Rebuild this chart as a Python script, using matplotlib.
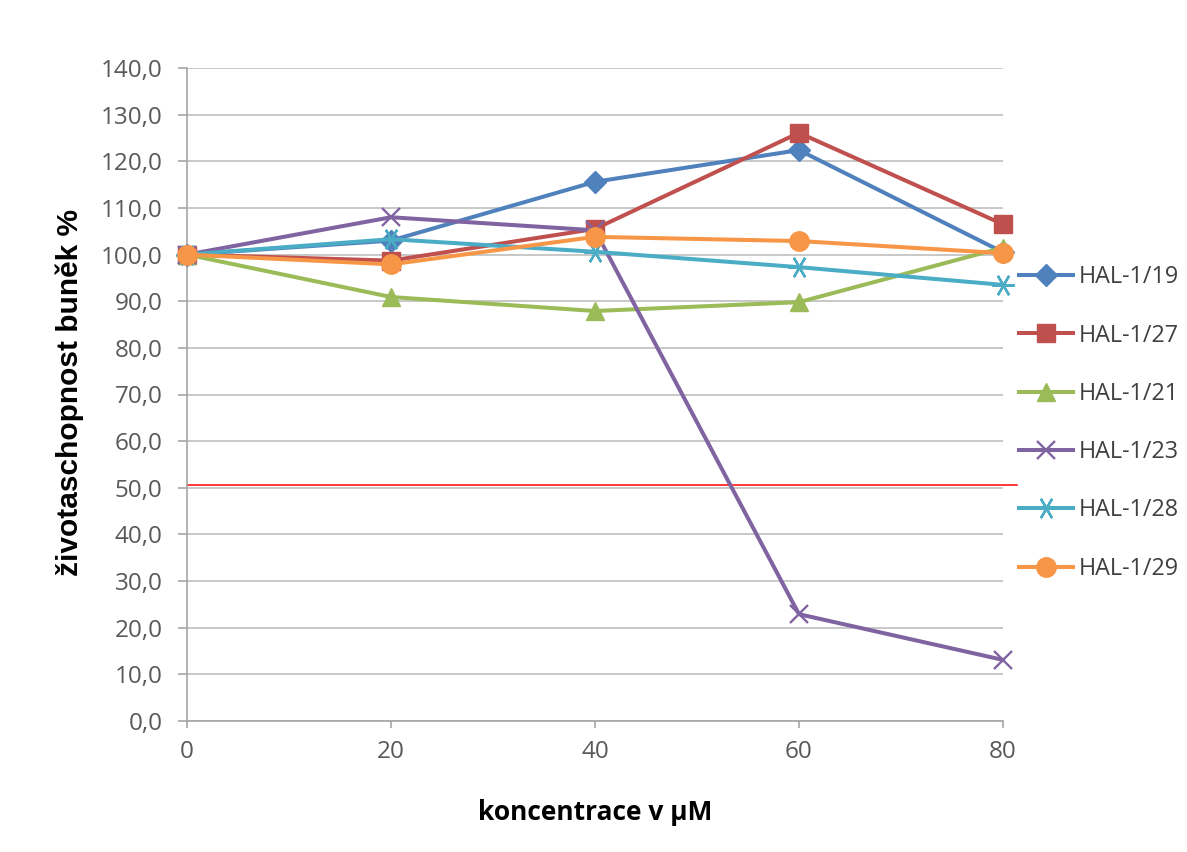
import matplotlib.pyplot as plt
from matplotlib.ticker import FuncFormatter

# data
conc = [0, 20, 40, 60, 80]
hal_19 = [100.0, 103.0, 115.6, 122.4, 100.5]
hal_27 = [100.0, 98.7, 105.5, 126.1, 106.5]
hal_21 = [100.0, 90.9, 87.9, 89.8, 101.5]
hal_23 = [100.0, 108.0, 105.2, 22.9, 13.1]
hal_28 = [100.0, 103.3, 100.6, 97.3, 93.5]
hal_29 = [100.0, 97.9, 103.8, 102.9, 100.3]
names = ["HAL-1/19", "HAL-1/27", "HAL-1/21", "HAL-1/23", "HAL-1/28", "HAL-1/29"]
threshold = 50.5

series = [hal_19, hal_27, hal_21, hal_23, hal_28, hal_29]
colors = ["#4F81BD", "#C0504D", "#9BBB59", "#8064A2", "#4BACC6", "#F79646"]
markers = ["D", "s", "^", "x", (6, 2, 90), "o"]
msizes = [11, 13, 13, 13, 16, 14]

plt.rcParams['font.family'] = ['Open Sans', 'DejaVu Sans']

fig = plt.figure(figsize=(11.87, 8.52), dpi=100)
ax = fig.add_axes([187/1187, 1 - 721/852, (1003 - 187)/1187, (721 - 68)/852])

for vals, name, c, m, ms in zip(series, names, colors, markers, msizes):
	thin = m in ("x", (6, 2, 90))
	ax.plot(conc, vals, color=c, lw=2.9, marker=m, markersize=ms,
		markeredgewidth=1.7 if thin else 1,
		markeredgecolor=c, markerfacecolor=c, label=name, clip_on=False, zorder=3)

# red 50 % line, sticks out a bit past the plot area
ax.axhline(threshold, xmin=0, xmax=1.017, color="#FF0000", lw=1.1, clip_on=False, zorder=2)

ax.set_xlim(0, 80)
ax.set_ylim(0, 140)
ax.set_xticks(conc)
ax.set_yticks(range(0, 141, 10))
ax.yaxis.set_major_formatter(FuncFormatter(lambda v, p: f"{v:.1f}".replace(".", ",")))
ax.grid(axis="y", color="#BFBFBF", lw=1.2)
ax.set_axisbelow(True)
for s in ("top", "right"):
	ax.spines[s].set_visible(False)
for s in ("left", "bottom"):
	ax.spines[s].set_color("#A6A6A6")
	ax.spines[s].set_linewidth(1.2)
ax.tick_params(axis="y", length=6.5, width=1.2, color="#A6A6A6", labelsize=17.5, labelcolor="#595959", pad=11)
ax.tick_params(axis="x", length=5, width=1.2, color="#A6A6A6", labelsize=17.5, labelcolor="#595959", pad=9)

fig.text(595/1187, 1 - 812/852, "koncentrace v µM", ha="center", va="center",
	fontsize=19, fontweight="bold")
fig.text(70/1187, 1 - 392/852, "životaschopnost buněk %", ha="center", va="center",
	rotation=90, fontsize=21.5, fontweight="bold", family="Liberation Sans")

fig.legend(loc="center left", bbox_to_anchor=(1019/1187, 1 - 423/852), frameon=False,
	fontsize=16.8, handlelength=2.3, handletextpad=0.25, labelspacing=1.47, borderpad=0,
	borderaxespad=0, labelcolor="#404040")

fig.savefig("out.png", dpi=100)
